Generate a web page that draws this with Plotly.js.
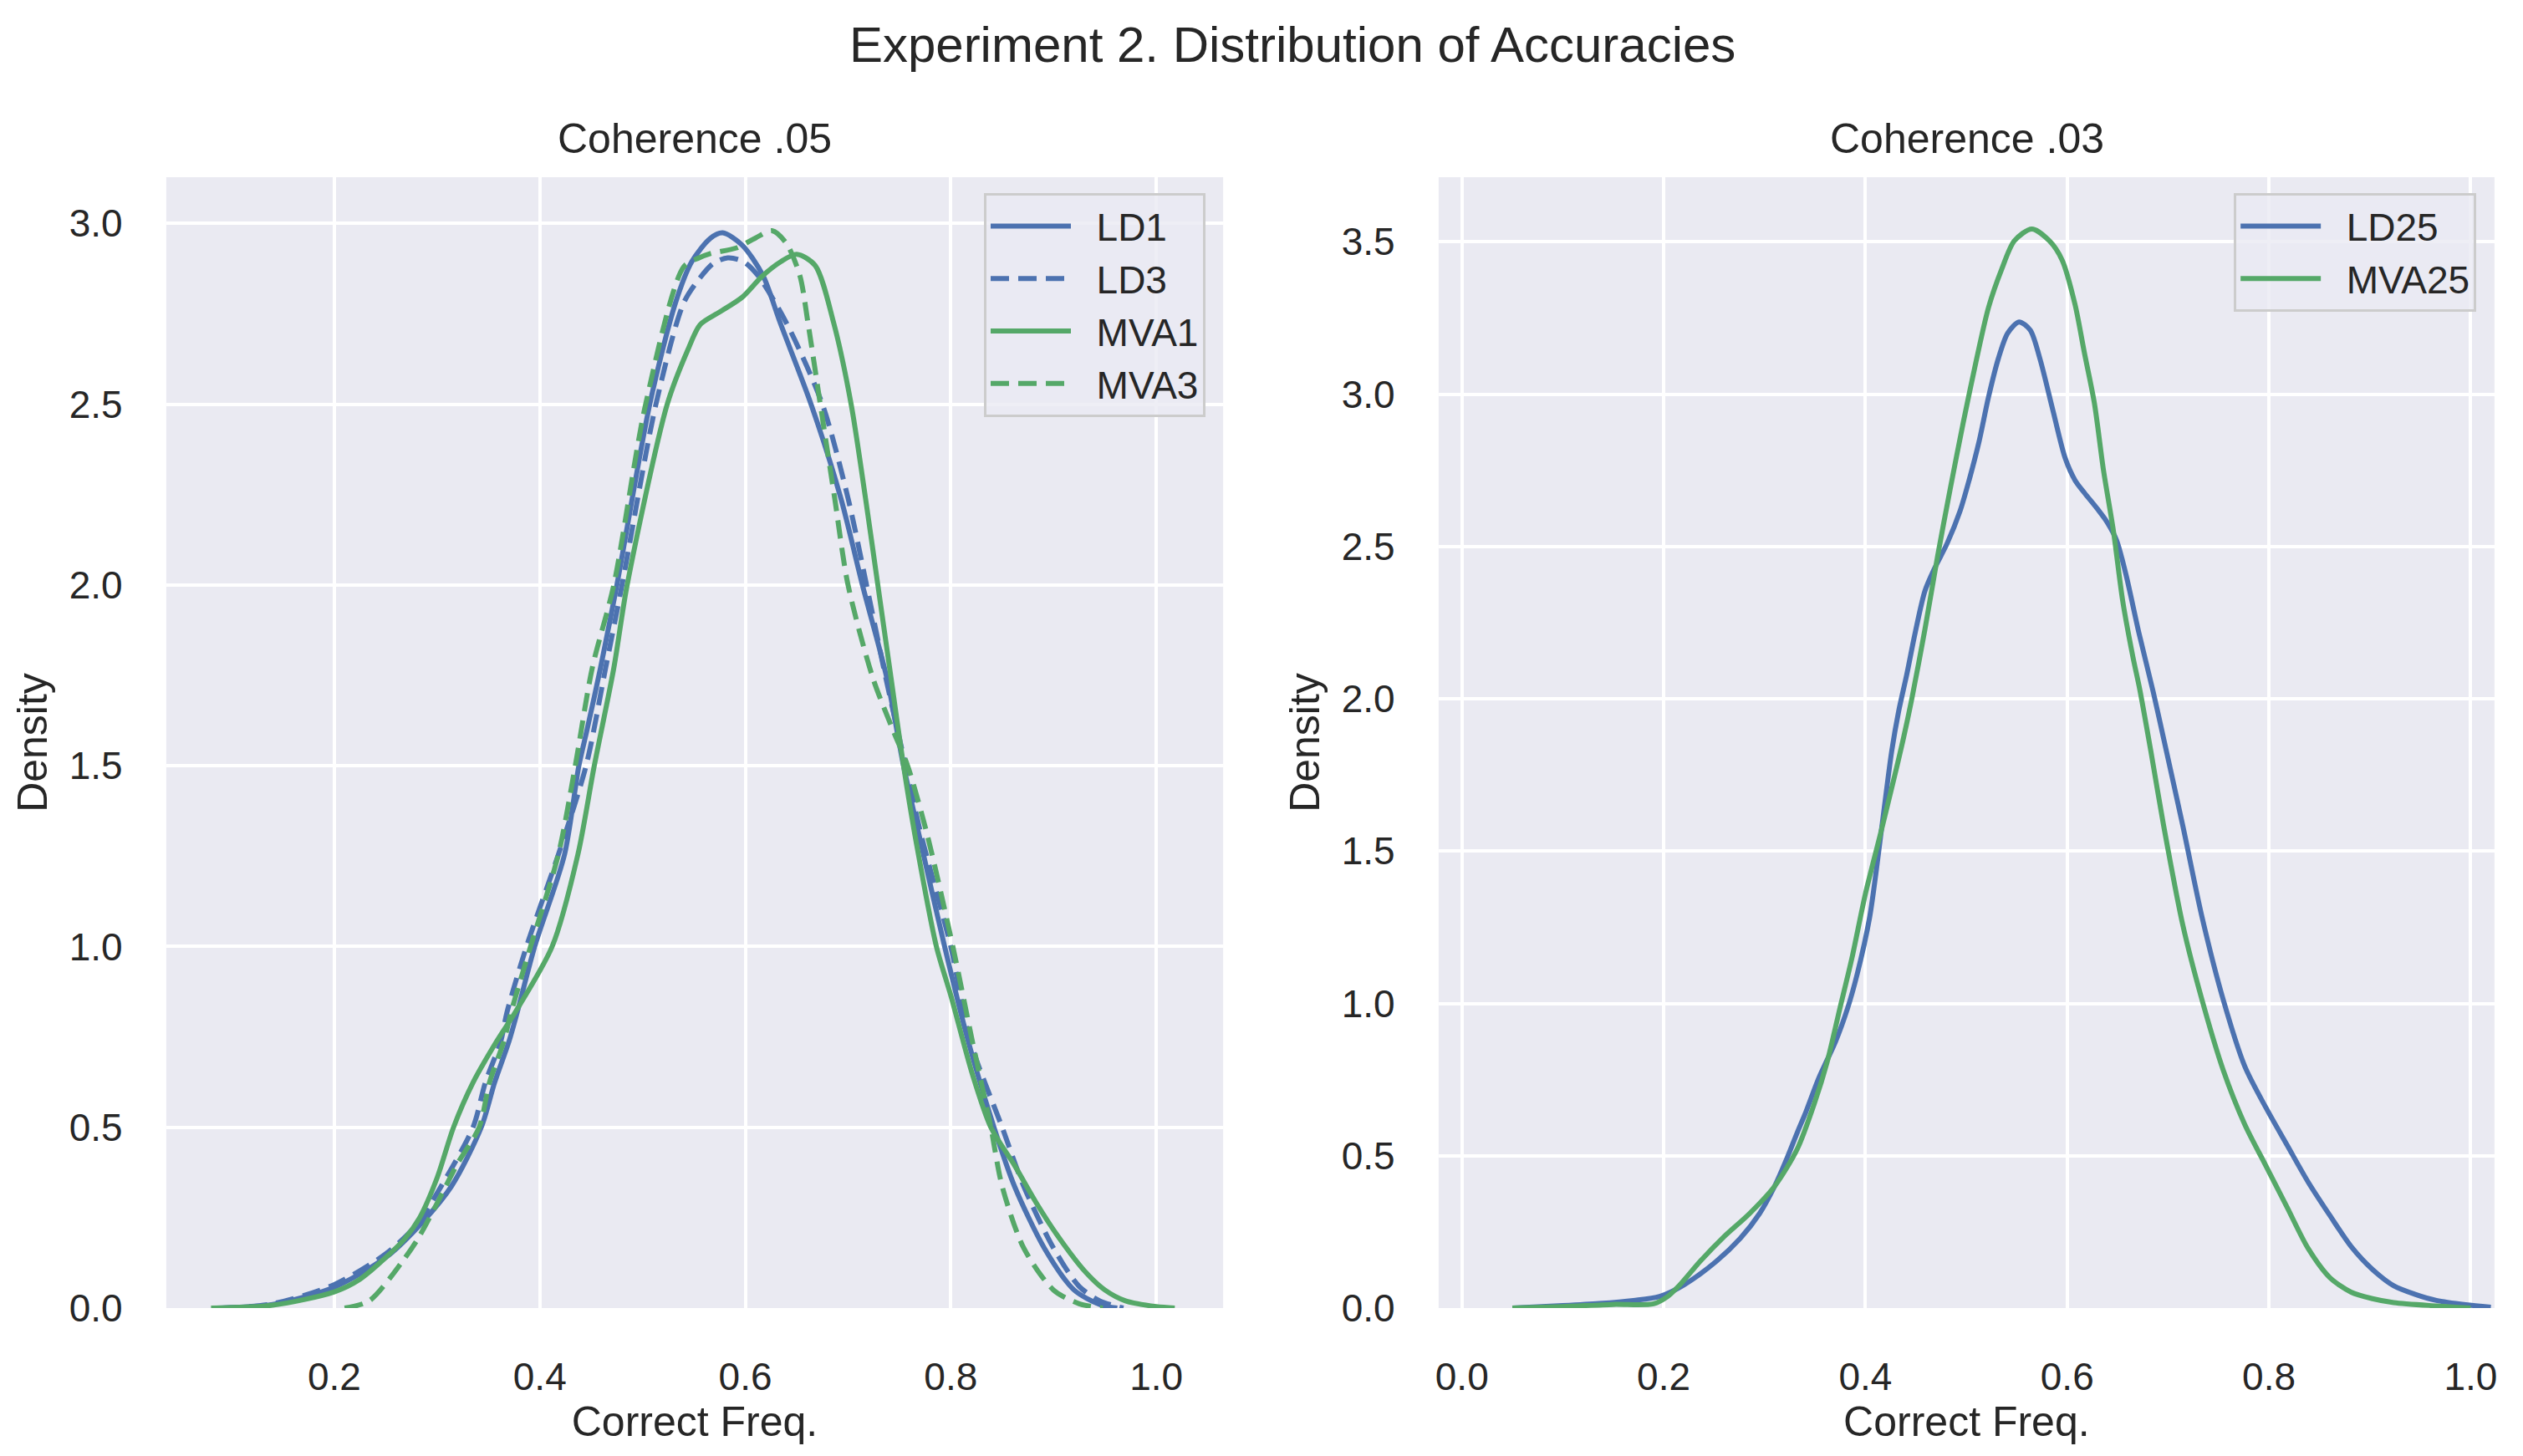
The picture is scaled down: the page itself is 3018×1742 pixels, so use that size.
<!DOCTYPE html>
<html>
<head>
<meta charset="utf-8">
<script src="https://cdn.plot.ly/plotly-3.0.1.min.js"></script>
<style>
    body { margin: 0; background: #ffffff; }
    #chart { width: 3018px; height: 1742px; }
</style>
</head>
<body>
<div id="chart"></div>
<script>
/*** DATA ***/

// Coherence .05
const ld1X = [0.085, 0.14, 0.2, 0.25, 0.28, 0.314, 0.343, 0.356, 0.370, 0.378, 0.395, 0.424, 0.438, 0.446, 0.459, 0.475, 0.507, 0.532, 0.548, 0.566, 0.578, 0.597, 0.617, 0.634, 0.664, 0.693, 0.714, 0.738, 0.754, 0.769, 0.794, 0.817, 0.842, 0.862, 0.891, 0.920, 0.945, 0.962];
const ld1Y = [0.0, 0.01, 0.058, 0.14, 0.22, 0.337, 0.5, 0.624, 0.738, 0.818, 1.0, 1.254, 1.5, 1.60, 1.77, 2.0, 2.5, 2.78, 2.895, 2.959, 2.974, 2.94, 2.857, 2.725, 2.5, 2.24, 2.0, 1.74, 1.5, 1.31, 1.0, 0.738, 0.5, 0.337, 0.166, 0.05, 0.01, 0.0];

const ld3X = [0.09, 0.14, 0.2, 0.25, 0.28, 0.304, 0.335, 0.347, 0.362, 0.368, 0.387, 0.418, 0.445, 0.464, 0.480, 0.513, 0.540, 0.556, 0.569, 0.583, 0.598, 0.612, 0.640, 0.675, 0.700, 0.718, 0.737, 0.756, 0.771, 0.800, 0.819, 0.850, 0.871, 0.900, 0.925, 0.945, 0.968];
const ld3Y = [0.0, 0.012, 0.065, 0.15, 0.23, 0.337, 0.5, 0.624, 0.738, 0.818, 1.0, 1.254, 1.5, 1.77, 2.0, 2.5, 2.78, 2.85, 2.89, 2.905, 2.895, 2.857, 2.725, 2.5, 2.24, 2.0, 1.74, 1.5, 1.31, 1.0, 0.738, 0.5, 0.337, 0.166, 0.06, 0.02, 0.0];

const mva1X = [0.08, 0.14, 0.2, 0.225, 0.25, 0.268, 0.283, 0.30, 0.316, 0.335, 0.358, 0.376, 0.412, 0.437, 0.453, 0.472, 0.485, 0.524, 0.544, 0.556, 0.575, 0.597, 0.616, 0.635, 0.650, 0.668, 0.686, 0.703, 0.717, 0.729, 0.742, 0.754, 0.765, 0.786, 0.800, 0.821, 0.839, 0.862, 0.883, 0.904, 0.932, 0.950, 0.970, 1.0, 1.018];
const mva1Y = [0.0, 0.008, 0.045, 0.08, 0.14, 0.19, 0.25, 0.36, 0.5, 0.624, 0.738, 0.818, 1.0, 1.254, 1.5, 1.77, 2.0, 2.5, 2.65, 2.72, 2.755, 2.796, 2.853, 2.895, 2.915, 2.884, 2.725, 2.5, 2.24, 2.0, 1.74, 1.5, 1.31, 1.0, 0.865, 0.647, 0.5, 0.395, 0.292, 0.2, 0.097, 0.05, 0.02, 0.004, 0.0];

const mva3X = [0.21, 0.234, 0.266, 0.281, 0.30, 0.32, 0.341, 0.351, 0.365, 0.372, 0.391, 0.418, 0.4345, 0.451, 0.472, 0.503, 0.540, 0.555, 0.566, 0.591, 0.610, 0.626, 0.640, 0.653, 0.661, 0.673, 0.687, 0.700, 0.7245, 0.744, 0.758, 0.777, 0.802, 0.821, 0.839, 0.850, 0.871, 0.900, 0.925, 0.948];
const mva3Y = [0.0, 0.02, 0.128, 0.19, 0.29, 0.4, 0.5, 0.624, 0.738, 0.818, 1.0, 1.254, 1.5, 1.77, 2.0, 2.5, 2.88, 2.905, 2.917, 2.932, 2.96, 2.98, 2.945, 2.857, 2.725, 2.5, 2.24, 2.0, 1.74, 1.597, 1.5, 1.31, 1.0, 0.738, 0.5, 0.337, 0.166, 0.05, 0.012, 0.0];

// Coherence .03
const ld25X = [0.05, 0.10, 0.136, 0.17, 0.196, 0.22, 0.252, 0.276, 0.295, 0.31, 0.322, 0.3324, 0.341, 0.3535, 0.3704, 0.3823, 0.3916, 0.4042, 0.4169, 0.426, 0.433, 0.441, 0.4494, 0.459, 0.4684, 0.481, 0.4937, 0.503, 0.5127, 0.522, 0.5317, 0.541, 0.5523, 0.5634, 0.573, 0.5856, 0.598, 0.6078, 0.6173, 0.630, 0.6395, 0.649, 0.6584, 0.671, 0.6854, 0.6957, 0.7147, 0.7337, 0.7548, 0.776, 0.797, 0.818, 0.839, 0.8604, 0.8815, 0.9026, 0.9238, 0.945, 0.966, 0.995, 1.02];
const ld25Y = [0.0, 0.008, 0.015, 0.025, 0.038, 0.076, 0.153, 0.229, 0.31, 0.40, 0.49, 0.576, 0.644, 0.753, 0.875, 0.984, 1.093, 1.283, 1.596, 1.827, 1.96, 2.08, 2.218, 2.354, 2.427, 2.51, 2.615, 2.72, 2.845, 2.99, 3.116, 3.20, 3.237, 3.21, 3.116, 2.95, 2.79, 2.717, 2.675, 2.623, 2.58, 2.52, 2.406, 2.218, 2.021, 1.868, 1.582, 1.283, 1.011, 0.794, 0.658, 0.535, 0.413, 0.304, 0.202, 0.127, 0.073, 0.045, 0.025, 0.011, 0.003];

const mva25X = [0.05, 0.10, 0.15, 0.19, 0.204, 0.216, 0.236, 0.26, 0.285, 0.31, 0.3324, 0.3493, 0.362, 0.3747, 0.3865, 0.40, 0.4148, 0.427, 0.437, 0.446, 0.459, 0.4716, 0.484, 0.497, 0.5096, 0.522, 0.535, 0.5476, 0.565, 0.5824, 0.595, 0.6078, 0.617, 0.627, 0.636, 0.6458, 0.655, 0.665, 0.672, 0.683, 0.6957, 0.7147, 0.7337, 0.7548, 0.776, 0.797, 0.818, 0.839, 0.8604, 0.8815, 0.9026, 0.9238, 0.966, 0.985, 1.0];
const mva25Y = [0.0, 0.005, 0.012, 0.014, 0.038, 0.076, 0.153, 0.235, 0.31, 0.40, 0.522, 0.671, 0.807, 0.984, 1.147, 1.36, 1.555, 1.72, 1.86, 2.0, 2.228, 2.469, 2.688, 2.907, 3.106, 3.284, 3.409, 3.503, 3.542, 3.503, 3.44, 3.294, 3.137, 2.97, 2.75, 2.552, 2.322, 2.14, 2.03, 1.827, 1.582, 1.256, 1.011, 0.78, 0.603, 0.467, 0.331, 0.195, 0.1, 0.052, 0.031, 0.018, 0.007, 0.003, 0.0];

// tick values
const xTicksLeft = [0.2, 0.4, 0.6, 0.8, 1.0];
const xTicksRight = [0.0, 0.2, 0.4, 0.6, 0.8, 1.0];
const yTicksLeft = [0.0, 0.5, 1.0, 1.5, 2.0, 2.5, 3.0];
const yTicksRight = [0.0, 0.5, 1.0, 1.5, 2.0, 2.5, 3.0, 3.5];

/*** STYLE ***/
const BLUE = '#4C72B0';
const GREEN = '#55A868';
const TEXT = '#262626';
const FONT = 'Liberation Sans, Arial, Helvetica, sans-serif';
const PAD = '\u00a0\u00a0'; // gap between legend line sample and its label

function kde_trace(x, y, name, color, dashed, xa, ya, legend) {
    return {
        x: x,
        y: y,
        name: PAD + name,
        type: 'scatter',
        mode: 'lines',
        xaxis: xa,
        yaxis: ya,
        legend: legend,
        line: {
            color: color,
            width: 6,
            shape: 'spline',
            smoothing: 0.8,
            dash: dashed ? '22px,11px' : 'solid'
        },
        hoverinfo: 'skip'
    };
}

function x_axis(domain, range, ticks, anchor) {
    return {
        domain: domain,
        range: range,
        anchor: anchor,
        tickvals: ticks,
        ticktext: ticks.map(v => v.toFixed(1)),
        ticks: 'outside',
        ticklen: 42,
        tickcolor: 'rgba(0,0,0,0)',
        tickfont: { family: FONT, size: 46, color: TEXT },
        showgrid: true,
        gridcolor: '#ffffff',
        gridwidth: 4,
        zeroline: false,
        showline: false,
        automargin: false,
        title: {
            text: 'Correct Freq.',
            standoff: 8,
            font: { family: FONT, size: 50, color: TEXT }
        }
    };
}

function y_axis(domain, range, ticks, anchor) {
    return {
        domain: domain,
        range: range,
        anchor: anchor,
        tickvals: ticks,
        ticktext: ticks.map(v => v.toFixed(1)),
        ticks: 'outside',
        ticklen: 42,
        tickcolor: 'rgba(0,0,0,0)',
        tickfont: { family: FONT, size: 46, color: TEXT },
        showgrid: true,
        gridcolor: '#ffffff',
        gridwidth: 4,
        zeroline: false,
        showline: false,
        automargin: false,
        title: {
            text: 'Density',
            standoff: 10,
            font: { family: FONT, size: 50, color: TEXT }
        }
    };
}

// legend box like matplotlib's: wide line sample, padded frame
function legend_box(x) {
    return {
        x: x,
        xanchor: 'right',
        y: 0.8674,
        yanchor: 'top',
        bgcolor: 'rgba(234,234,242,0.8)',
        bordercolor: '#cccccc',
        borderwidth: 3,
        itemwidth: 96,
        font: { family: FONT, size: 46, color: TEXT },
        tracegroupgap: 0
    };
}

/*** PLOT ***/
const yDomain = [0.1016, 0.8783];

var data = [
    kde_trace(ld1X, ld1Y, 'LD1', BLUE, false, 'x', 'y', 'legend'),
    kde_trace(ld3X, ld3Y, 'LD3', BLUE, true, 'x', 'y', 'legend'),
    kde_trace(mva1X, mva1Y, 'MVA1', GREEN, false, 'x', 'y', 'legend'),
    kde_trace(mva3X, mva3Y, 'MVA3', GREEN, true, 'x', 'y', 'legend'),
    kde_trace(ld25X, ld25Y, 'LD25', BLUE, false, 'x2', 'y2', 'legend2'),
    kde_trace(mva25X, mva25Y, 'MVA25', GREEN, false, 'x2', 'y2', 'legend2')
];

var layout = {
    width: 3018,
    height: 1742,
    margin: { l: 0, r: 0, t: 0, b: 0 },
    paper_bgcolor: '#ffffff',
    plot_bgcolor: '#EAEAF2',
    font: { family: FONT, color: TEXT },
    title: {
        text: 'Experiment 2. Distribution of Accuracies',
        x: 0.5123,
        xanchor: 'center',
        y: 0.9696,
        yanchor: 'middle',
        font: { family: FONT, size: 60, color: TEXT }
    },
    xaxis: x_axis([0.0659, 0.4848], [0.0364, 1.0651], xTicksLeft, 'y'),
    yaxis: y_axis(yDomain, [0, 3.128], yTicksLeft, 'x'),
    xaxis2: x_axis([0.5702, 0.9887], [-0.0231, 1.0236], xTicksRight, 'y2'),
    yaxis2: y_axis(yDomain, [0, 3.712], yTicksRight, 'x2'),
    showlegend: true,
    legend: legend_box(0.4778),
    legend2: legend_box(0.9815),
    annotations: [
        {
            text: 'Coherence .05', xref: 'paper', yref: 'paper',
            x: 0.2754, y: 0.9047, xanchor: 'center', yanchor: 'middle',
            showarrow: false, font: { family: FONT, size: 50, color: TEXT }
        },
        {
            text: 'Coherence .03', xref: 'paper', yref: 'paper',
            x: 0.7795, y: 0.9047, xanchor: 'center', yanchor: 'middle',
            showarrow: false, font: { family: FONT, size: 50, color: TEXT }
        }
    ]
};

Plotly.newPlot('chart', data, layout, { displayModeBar: false, responsive: false });
</script>
</body>
</html>
